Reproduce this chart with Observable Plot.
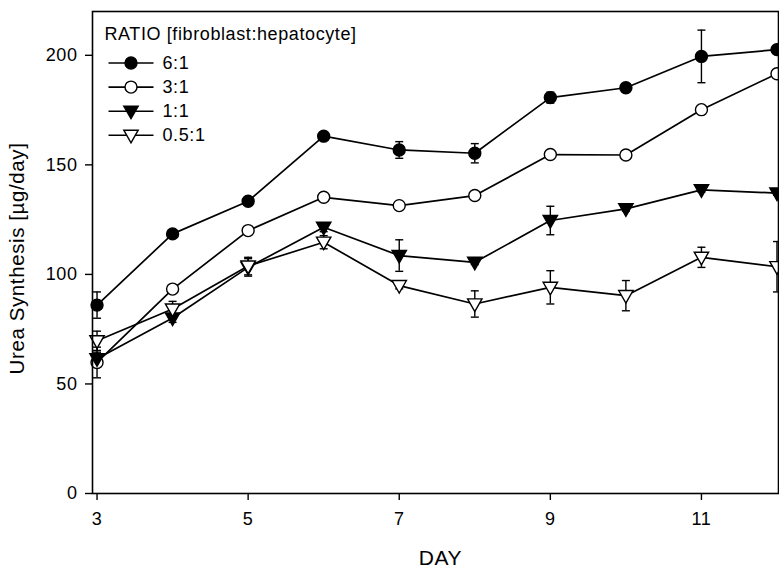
<!DOCTYPE html>
<html><head><meta charset="utf-8">
<script src="https://cdn.jsdelivr.net/npm/d3@7"></script>
<script src="https://cdn.jsdelivr.net/npm/@observablehq/plot@0.6"></script>
<style>
body{margin:0;background:#fff;overflow:hidden}
#chart{width:779px;height:571px}
</style>
</head><body><div id="chart"></div>
<script>
const days = [3, 4, 5, 6, 7, 8, 9, 10, 11, 12];
const ratios = ["6:1", "3:1", "1:1", "0.5:1"];
const urea61  = [86, 118.5, 133.4, 163.1, 156.8, 155.3, 180.7, 185.2, 199.5, 202.6];
const sd61    = [6, 1.5, 1.5, 1.2, 3.8, 4.4, 2.5, 1.5, 12, 1.5];
const urea31  = [59.8, 93.3, 120, 135.2, 131.4, 136, 154.7, 154.5, 175.2, 191.6];
const sd31    = [7, 1, 1, 1, 1, 1, 1, 1, 1, 1];
const urea11  = [61.5, 80.1, 103.2, 121.5, 108.6, 105.5, 124.6, 129.9, 138.6, 137.1];
const sd11    = [3, 2, 4, 2, 7.2, 1, 6.5, 1, 1, 1];
const urea051 = [69.7, 84.2, 103.8, 114.7, 94.9, 86.5, 94.1, 90.3, 107.8, 103.5];
const sd051   = [4.4, 3.5, 4, 3, 1.5, 6, 7.6, 6.9, 4.6, 11.5];
const yTicks = [0, 50, 100, 150, 200];
const xTicks = [3, 5, 7, 9, 11];
const legendTitle = "RATIO [fibroblast:hepatocyte]";
const yLabel = "Urea Synthesis [µg/day]";
const xLabel = "DAY";

const seriesValues = [urea61, urea31, urea11, urea051];
const seriesSd = [sd61, sd31, sd11, sd051];
const rows = ratios.flatMap((ratio, s) => days.map((day, i) => ({
  ratio, s, day, value: seriesValues[s][i], sd: seriesSd[s][i]
})));

const triDown = {draw(ctx, size) {
  const r = Math.sqrt(size / Math.PI);
  ctx.moveTo(-1.2 * r, -0.85 * r); ctx.lineTo(1.2 * r, -0.85 * r); ctx.lineTo(0, 1.25 * r); ctx.closePath();
}};
const cap = {draw(ctx) { ctx.moveTo(-4, 0); ctx.lineTo(4, 0); }};
const legendLine = {draw(ctx) { ctx.moveTo(-22.5, 0); ctx.lineTo(22.5, 0); }};
const symbols = [d3.symbolCircle, d3.symbolCircle, triDown, triDown];
const fills = ["black", "white", "black", "white"];

const font = "'Liberation Sans', Arial, Helvetica, sans-serif";
const marks = [];

// lines and error bars
ratios.forEach((ratio, s) => {
  const d = rows.filter(r => r.s === s);
  marks.push(Plot.line(d, {x: "day", y: "value", stroke: "black", strokeWidth: 1.7}));
  marks.push(Plot.ruleX(d, {x: "day", y1: r => r.value - r.sd, y2: r => r.value + r.sd, stroke: "black", strokeWidth: 1.4}));
  marks.push(Plot.dot(d, {x: "day", y: r => r.value - r.sd, symbol: cap, stroke: "black", strokeWidth: 1.4}));
  marks.push(Plot.dot(d, {x: "day", y: r => r.value + r.sd, symbol: cap, stroke: "black", strokeWidth: 1.4}));
});
// markers
ratios.forEach((ratio, s) => {
  const d = rows.filter(r => r.s === s);
  marks.push(Plot.dot(d, {x: "day", y: "value", symbol: symbols[s], r: 6, fill: fills[s], stroke: "black", strokeWidth: 1.4}));
});
// legend
marks.push(Plot.text([legendTitle], {frameAnchor: "top-left", dx: 12, dy: 22.5, textAnchor: "start", lineAnchor: "middle", fontSize: 18, fill: "black"}));
ratios.forEach((ratio, i) => {
  const dy = 51.5 + 24.1 * i;
  marks.push(Plot.dot([ratio], {frameAnchor: "top-left", dx: 38.5, dy, symbol: legendLine, stroke: "black", strokeWidth: 1.6}));
  marks.push(Plot.dot([ratio], {frameAnchor: "top-left", dx: 38.5, dy, symbol: symbols[i], r: 6, fill: fills[i], stroke: "black", strokeWidth: 1.4}));
  marks.push(Plot.text([ratio], {frameAnchor: "top-left", dx: 70, dy, textAnchor: "start", lineAnchor: "middle", fontSize: 18, fill: "black"}));
});
// axis titles
marks.push(Plot.text([yLabel], {frameAnchor: "left", dx: -75, dy: 6, rotate: -90, textAnchor: "middle", fontSize: 20.5, lineAnchor: "middle", fill: "black"}));
marks.push(Plot.text([xLabel], {frameAnchor: "bottom", dx: 5, dy: 65, textAnchor: "middle", fontSize: 21, lineAnchor: "middle", fill: "black"}));

marks.push(Plot.axisY({ticks: yTicks, tickSize: 7, tickPadding: 8, label: null, fontSize: 18, strokeWidth: 1.4}));
marks.push(Plot.axisX({ticks: xTicks, tickSize: 7, tickPadding: 12, label: null, fontSize: 18, strokeWidth: 1.4}));
marks.push(Plot.frame({stroke: "black", strokeWidth: 1.6}));

const chart = Plot.plot({
  width: 779,
  height: 571,
  marginLeft: 92,
  marginRight: 1,
  marginTop: 11,
  marginBottom: 78,
  style: {fontFamily: font, fontSize: "18px", color: "black", background: "white", overflow: "visible", letterSpacing: "0.6px"},
  x: {domain: [2.94, 12.02]},
  y: {domain: [0, 220]},
  marks
});
document.getElementById("chart").appendChild(chart);
</script>
</body></html>
